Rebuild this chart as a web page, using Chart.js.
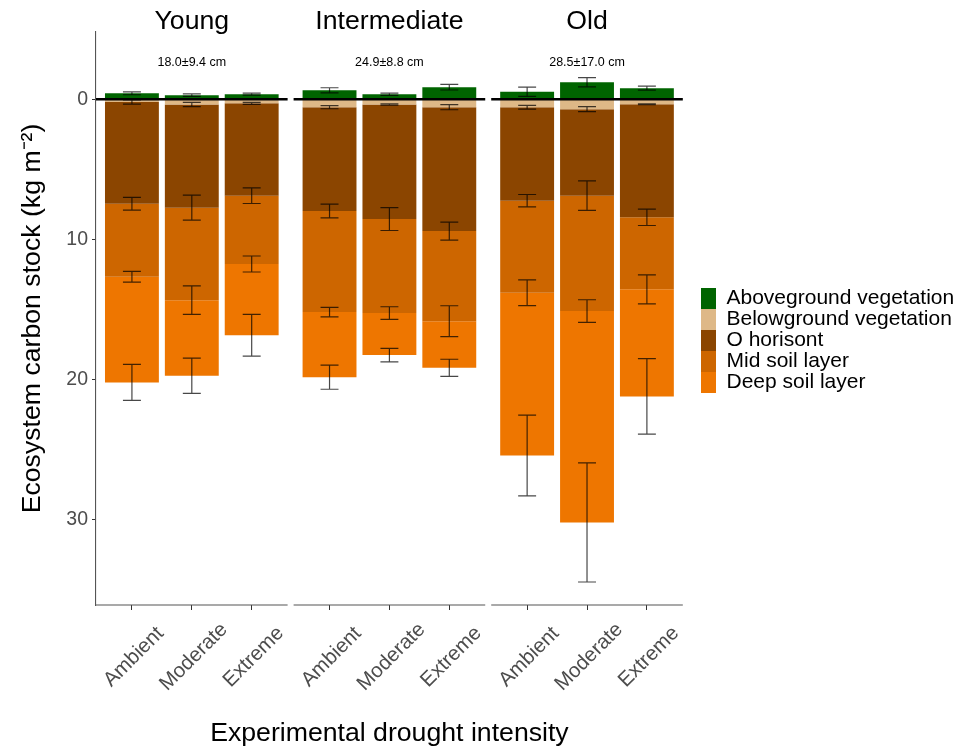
<!DOCTYPE html>
<html>
<head>
<meta charset="utf-8">
<script src="https://cdn.jsdelivr.net/npm/chart.js@4.4.1/dist/chart.umd.min.js"></script>
<style>
  html, body { margin: 0; padding: 0; background: #fff; }
  #wrap { width: 974px; height: 750px; }
</style>
</head>
<body>
<div id="wrap"><canvas id="c" width="974" height="750"></canvas></div>
<script>
// Forest age classes (facets) and drought treatments (bars within a facet)
const ages = ['Young', 'Intermediate', 'Old'];
const treatments = ['Ambient', 'Moderate', 'Extreme'];
const depthLabels = ['18.0±9.4 cm', '24.9±8.8 cm', '28.5±17.0 cm'];
const layers = ['Aboveground vegetation', 'Belowground vegetation', 'O horisont', 'Mid soil layer', 'Deep soil layer'];
const layerColors = ['#006400', '#DEB887', '#8B4500', '#CD6600', '#EE7600'];
const yTicks = [0, 10, 20, 30];

// Carbon stock per pool (kg m-2); order: Young A/M/E, Intermediate A/M/E, Old A/M/E
const aboveground = [0.42, 0.29, 0.36, 0.64, 0.36, 0.86, 0.54, 1.21, 0.79];
const belowground = [0.20, 0.38, 0.29, 0.57, 0.38, 0.57, 0.57, 0.71, 0.36];
const oHorizon    = [7.26, 7.36, 6.59, 7.41, 8.17, 8.84, 6.67, 6.17, 8.07];
const midSoil     = [5.21, 6.60, 4.88, 7.21, 6.71, 6.43, 6.57, 8.24, 5.14];
const deepSoil    = [7.54, 5.40, 5.08, 4.65, 3.00, 3.33, 11.62, 15.09, 7.64];

// Error (± kg m-2) of the cumulative stock at the lower edge of each pool
const abovegroundErr = [0.10, 0.09, 0.07, 0.18, 0.08, 0.20, 0.33, 0.33, 0.14];
const belowgroundErr = [0.15, 0.15, 0.07, 0.11, 0.05, 0.18, 0.13, 0.18, 0.03];
const oHorizonErr    = [0.45, 0.89, 0.56, 0.49, 0.82, 0.64, 0.44, 1.05, 0.58];
const midSoilErr     = [0.39, 1.02, 0.57, 0.34, 0.45, 1.10, 0.92, 0.81, 1.04];
const deepSoilErr    = [1.29, 1.26, 1.49, 0.86, 0.48, 0.61, 2.88, 4.25, 2.70];

// Facet geometry on the shared linear x scale (one unit per bar slot)
const PANEL_WIDTH = 3.2, PANEL_STEP = 3.3, PANEL_PAD = 0.6;
const nBars = ages.length * treatments.length;
const barPos = Array.from({length: nBars}, (_, i) => Math.floor(i / treatments.length) * PANEL_STEP + PANEL_PAD + (i % treatments.length));

// Build floating [start, end] segments; aboveground grows upward (negative on the reversed axis)
const belowPools = [belowground, oHorizon, midSoil, deepSoil];
const belowErrs = [belowgroundErr, oHorizonErr, midSoilErr, deepSoilErr];
const segments = [aboveground.map(v => [0, -v])];
const errors = [aboveground.map((v, i) => ({at: -v, err: abovegroundErr[i]}))];
{
  const running = new Array(nBars).fill(0);
  belowPools.forEach((pool, k) => {
    segments.push(pool.map((v, i) => [running[i], running[i] += v]));
    errors.push(pool.map((v, i) => ({at: running[i], err: belowErrs[k][i]})));
  });
}

const FONT = "'Liberation Sans', Arial, sans-serif";
Chart.defaults.font.family = FONT;

const facetPlugin = {
  id: 'facets',
  afterLayout(chart) {
    // place the legend keys beside the panels
    const lg = chart.legend;
    const w = lg.right - lg.left;
    lg.left = 701; lg.right = 701 + w;
    lg.top = 0; lg.bottom = 681;
  },
  afterDatasetsDraw(chart) {
    const {ctx, chartArea, scales: {x, y}} = chart;
    ctx.save();
    // error bars
    ctx.strokeStyle = 'rgba(0,0,0,0.72)';
    ctx.lineWidth = 1.2;
    errors.forEach(layer => layer.forEach((e, i) => {
      const cx = x.getPixelForValue(barPos[i]);
      const hw = x.getPixelForValue(barPos[i] + 0.15) - cx;
      const y1 = y.getPixelForValue(e.at - e.err), y2 = y.getPixelForValue(e.at + e.err);
      ctx.beginPath();
      ctx.moveTo(cx, y1); ctx.lineTo(cx, y2);
      ctx.moveTo(cx - hw, y1); ctx.lineTo(cx + hw, y1);
      ctx.moveTo(cx - hw, y2); ctx.lineTo(cx + hw, y2);
      ctx.stroke();
    }));
    // zero reference line and bottom axis line per facet
    ages.forEach((age, p) => {
      const x0 = x.getPixelForValue(p * PANEL_STEP), x1 = x.getPixelForValue(p * PANEL_STEP + PANEL_WIDTH);
      const y0 = y.getPixelForValue(0);
      ctx.strokeStyle = '#000'; ctx.lineWidth = 2.4;
      ctx.beginPath(); ctx.moveTo(x0, y0); ctx.lineTo(x1, y0); ctx.stroke();
      ctx.strokeStyle = '#555'; ctx.lineWidth = 1.1;
      ctx.beginPath(); ctx.moveTo(x0, chartArea.bottom); ctx.lineTo(x1, chartArea.bottom); ctx.stroke();
      // facet strip title and sampling depth
      const cx = (x0 + x1) / 2;
      ctx.fillStyle = '#000';
      ctx.textAlign = 'center'; ctx.textBaseline = 'middle';
      ctx.font = `26.67px ${FONT}`;
      ctx.fillText(age, cx, 22);
      ctx.font = `12.5px ${FONT}`;
      ctx.fillText(depthLabels[p], cx, 63);
    });
    // rotated treatment labels under each bar
    ctx.fillStyle = '#4d4d4d';
    ctx.font = `20.5px ${FONT}`;
    barPos.forEach((v, i) => {
      const cx = x.getPixelForValue(v);
      ctx.save();
      ctx.translate(cx + 2, chartArea.bottom + 52);
      ctx.rotate(-Math.PI / 4);
      ctx.textAlign = 'center'; ctx.textBaseline = 'middle';
      ctx.fillText(treatments[i % treatments.length], 0, 0);
      ctx.restore();
    });
    ctx.restore();
  }
};

new Chart(document.getElementById('c'), {
  type: 'bar',
  data: {
    datasets: layers.map((name, k) => ({
      label: name,
      data: segments[k].map((s, i) => ({x: barPos[i], y: s})),
      backgroundColor: layerColors[k],
      borderWidth: 0
    }))
  },
  options: {
    responsive: false,
    animation: false,
    devicePixelRatio: 1,
    layout: {padding: {top: 32, right: 28, left: 0, bottom: 0}},
    datasets: {bar: {grouped: false, barPercentage: 0.9, categoryPercentage: 1}},
    plugins: {
      tooltip: {enabled: false},
      legend: {
        position: 'right',
        align: 'center',
        maxWidth: 320,
        labels: {boxWidth: 15, boxHeight: 21, padding: 0, color: '#000', font: {size: 21}}
      }
    },
    scales: {
      x: {
        type: 'linear',
        offset: false,
        min: 0,
        max: PANEL_STEP * (ages.length - 1) + PANEL_WIDTH,
        afterBuildTicks: s => { s.ticks = barPos.map(v => ({value: v})); },
        afterFit: s => { s.height = 145; },
        grid: {offset: false, drawOnChartArea: false, drawTicks: true, tickLength: 5, color: '#333', lineWidth: 1},
        border: {display: false},
        ticks: {display: false},
        title: {display: true, text: 'Experimental drought intensity', color: '#000', font: {size: 26.67}, padding: 0}
      },
      y: {
        type: 'linear',
        reverse: true,
        min: -4.8,
        max: 36.1,
        afterBuildTicks: s => { s.ticks = yTicks.map(v => ({value: v})); },
        afterFit: s => { s.width = 96; },
        grid: {drawOnChartArea: false, drawTicks: true, tickLength: 4, color: '#333'},
        border: {display: true, color: '#555', width: 1.1},
        ticks: {color: '#4d4d4d', font: {size: 19.5}, padding: 4},
        title: {display: true, text: 'Ecosystem carbon stock (kg m⁻²)', color: '#000', font: {size: 26.67}, padding: {top: 17, bottom: 0}}
      }
    }
  },
  plugins: [facetPlugin]
});
</script>
</body>
</html>
